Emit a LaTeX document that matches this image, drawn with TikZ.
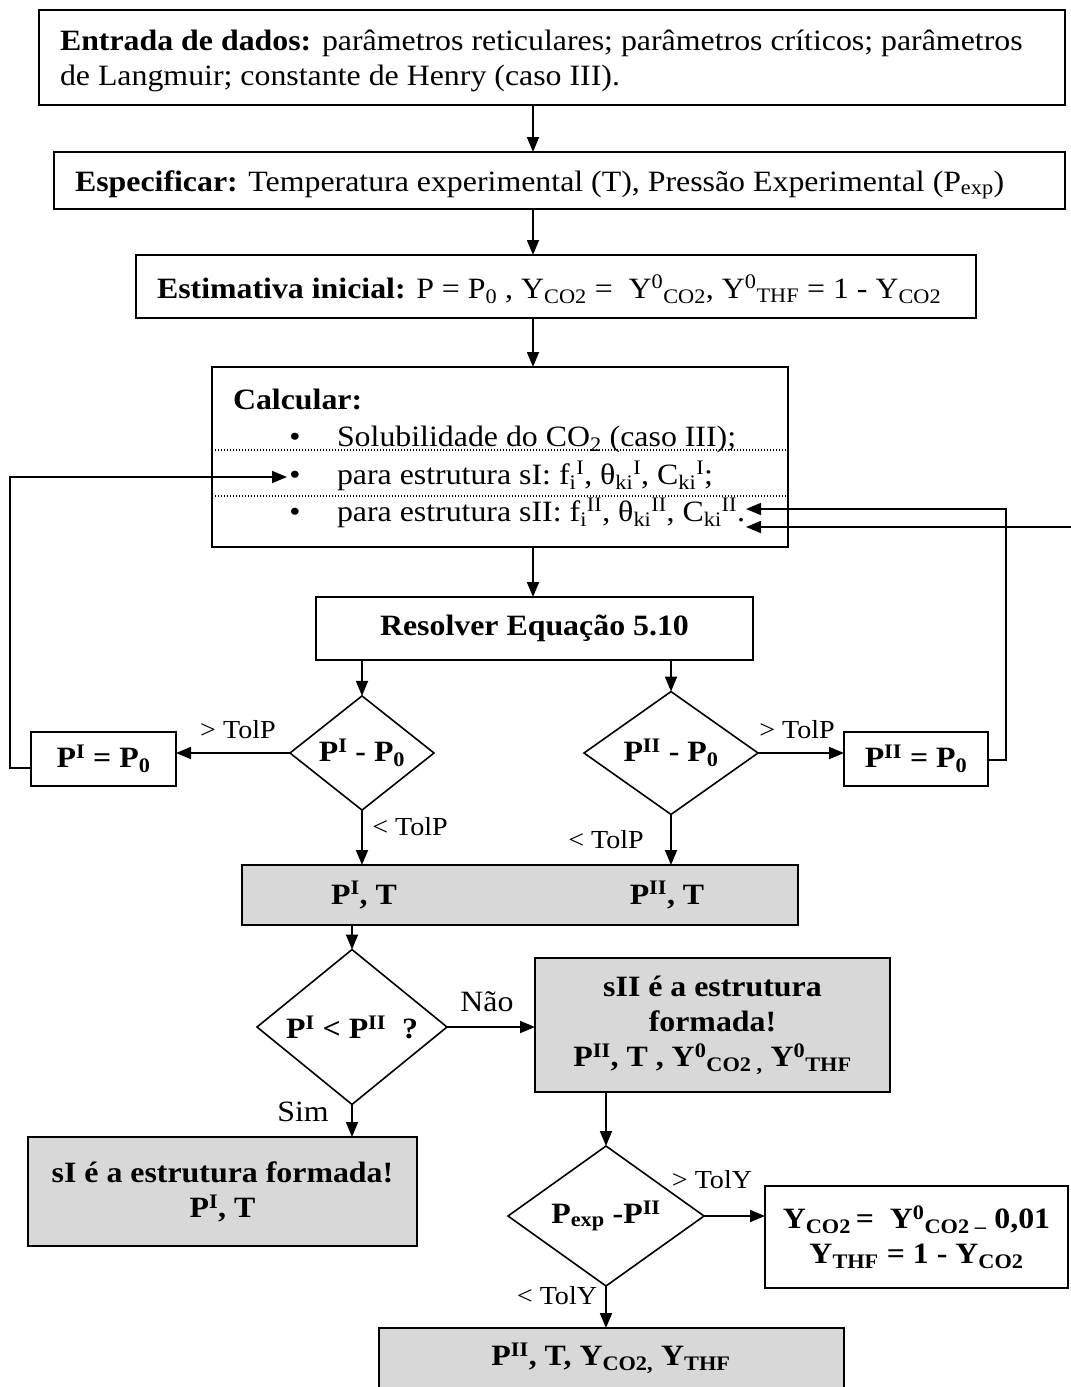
\documentclass[tikz,border=0pt]{standalone}
\usepackage{fontspec}
\setmainfont{Liberation Serif}[FakeStretch=1.08]
\usetikzlibrary{shapes.geometric,arrows.meta}
\definecolor{boxgray}{RGB}{216,216,216}
\newcommand{\xsub}[1]{\textsubscript{#1}}
\newcommand{\xsup}[1]{\textsuperscript{#1}}
\begin{document}
\begin{tikzpicture}[x=1pt,y=-1pt,
  every node/.style={inner sep=0pt, outer sep=0pt},
  frame/.style={draw, line width=1.8pt, rectangle},
  greyframe/.style={frame, fill=boxgray},
  dec/.style={draw, diamond, line width=1.6pt},
  txt/.style={font=\fontsize{29.5}{35}\selectfont, align=center},
  btxt/.style={font=\fontsize{29.5}{35}\selectfont\bfseries, align=center},
  lbl/.style={font=\fontsize{26}{30}\selectfont},
  tip/.style={-{Triangle[length=15pt,width=12pt]}},
  arr/.style={line width=1.8pt, tip},
  plain/.style={line width=1.6pt},
  dotline/.style={line width=1.3pt, dash pattern=on 1.3pt off 1.7pt}]
\useasboundingbox (0,0) rectangle (1071,1387);
\coordinate (axis) at (533,0);

% top boxes
\node[frame, minimum width=1026pt, minimum height=95pt] (entrada) at (552,57.5) {};
\node[txt, anchor=base west] (entradaA) at (60,50) {\textbf{Entrada de dados:} parâmetros reticulares; parâmetros críticos; parâmetros};
\node[txt, anchor=base west] (entradaB) at (60,85) {de Langmuir; constante de Henry (caso III).};

\node[frame, minimum width=1011pt, minimum height=57pt] (espec) at (559.5,180.5) {};
\node[txt, anchor=base west] (especT) at (75,191) {\textbf{Especificar:} Temperatura experimental (T), Pressão Experimental (P\xsub{exp})};

\node[frame, minimum width=840pt, minimum height=63pt] (estim) at (556,286.5) {};
\node[txt, anchor=base west] (estimT) at (157,298) {\textbf{Estimativa inicial:} P = P\xsub{0} , Y\xsub{CO2} =\ \ Y\xsup{0}\xsub{CO2}, Y\xsup{0}\xsub{THF} = 1 - Y\xsub{CO2}};

% calcular box
\node[frame, minimum width=576pt, minimum height=180pt] (calc) at (500,457) {};
\node[btxt, anchor=base west] (calcT) at (233,409) {Calcular:};
\node[txt, anchor=base] (bul1) at (295,446) {\textbullet};
\node[txt, anchor=base] (bul2) at (295,484) {\textbullet};
\node[txt, anchor=base] (bul3) at (295,521) {\textbullet};
\node[txt, anchor=base west] (calc1) at (337,446) {Solubilidade do CO\xsub{2} (caso III);};
\node[txt, anchor=base west] (calc2) at (337,484) {para estrutura sI: f\xsub{i}\xsup{I}, θ\xsub{ki}\xsup{I}, C\xsub{ki}\xsup{I};};
\node[txt, anchor=base west] (calc3) at (337,521) {para estrutura sII: f\xsub{i}\xsup{II}, θ\xsub{ki}\xsup{II}, C\xsub{ki}\xsup{II}.};
\coordinate (dotA) at (212,450);
\coordinate (dotB) at (212,496);
\draw[dotline] (dotA) -- (dotA -| calc.east);
\draw[dotline] (dotB) -- (dotB -| calc.east);
\coordinate (tipI) at (287,477);
\coordinate (tipIIa) at (746,509);
\coordinate (tipIIb) at (746,527);
\coordinate (edgeR) at (1071,527);
\coordinate (loopL) at (10,0);
\coordinate (loopR) at (1006,0);

% resolver
\node[frame, minimum width=437pt, minimum height=63pt, btxt] (resolver) at (534.5,628.5) {Resolver Equação 5.10};

% arrows down the axis
\draw[arr] (entrada.south -| axis) -- (espec.north -| axis);
\draw[arr] (espec.south -| axis) -- (estim.north -| axis);
\draw[arr] (estim.south -| axis) -- (calc.north -| axis);
\draw[arr] (calc.south -| axis) -- (resolver.north -| axis);

% first decisions
\node[dec, minimum width=144pt, minimum height=91pt, btxt] (dI) at (362,753) {P\xsup{I} - P\xsub{0}};
\node[dec, minimum width=174pt, minimum height=91pt, btxt] (dII) at (671,753) {P\xsup{II} - P\xsub{0}};
\node[frame, minimum width=145pt, minimum height=54pt, btxt] (pI0) at (103.5,759) {P\xsup{I} = P\xsub{0}};
\node[frame, minimum width=144pt, minimum height=54pt, btxt] (pII0) at (916,759) {P\xsup{II} = P\xsub{0}};
\draw[arr] (resolver.south -| dI.north) -- (dI.north);
\draw[arr] (resolver.south -| dII.north) -- (dII.north);
\draw[arr] (dI.west) -- (dI.west -| pI0.east);
\draw[arr] (dII.east) -- (dII.east -| pII0.west);
\node[lbl] (gtPI) at (238,730) {> TolP};
\node[lbl] (gtPII) at (797,730) {> TolP};

% loops
\draw[plain, tip] ([yshift=-9pt]pI0.west) -| (loopL |- tipI) -- (tipI);
\draw[plain, tip] ([yshift=-1pt]pII0.east) -| (loopR |- tipIIa) -- (tipIIa);
\draw[arr] (edgeR) -- (tipIIb);

% grey result box
\node[greyframe, minimum width=556pt, minimum height=60pt] (res1) at (520,895) {};
\node[btxt] (res1a) at (364,895) {P\xsup{I}, T};
\node[btxt] (res1b) at (667,895) {P\xsup{II}, T};
\draw[arr] (dI.south) -- (dI.south |- res1.north);
\draw[arr] (dII.south) -- (dII.south |- res1.north);
\node[lbl] (ltPI) at (410,827) {< TolP};
\node[lbl] (ltPII) at (606,840) {< TolP};

% comparison
\node[dec, minimum width=190pt, minimum height=110pt, btxt] (dcmp) at (352,1027) {P\xsup{I} < P\xsup{II}\ \ ?};
\draw[arr] (res1.south -| dcmp.north) -- (dcmp.north);
\node[greyframe, minimum width=355pt, minimum height=134pt, btxt] (sII) at (712.5,1025) {sII é a estrutura\\formada!\\P\xsup{II}, T , Y\xsup{0}\xsub{CO2 ,} Y\xsup{0}\xsub{THF}};
\draw[arr] (dcmp.east) -- (dcmp.east -| sII.west);
\node[txt] (nao) at (487,1002) {Não};
\node[greyframe, minimum width=389pt, minimum height=109pt, btxt] (sI) at (222.5,1191.5) {sI é a estrutura formada!\\P\xsup{I}, T};
\draw[arr] (dcmp.south) -- (dcmp.south |- sI.north);
\node[txt] (sim) at (303,1112) {Sim};

% final decision
\node[dec, minimum width=196pt, minimum height=107pt, btxt] (dexp) at (606,1216) {P\xsub{exp} -P\xsup{II}};
\draw[arr] (sII.south -| dexp.north) -- (dexp.north);
\node[frame, minimum width=303pt, minimum height=102pt, btxt] (ybox) at (916.5,1237) {Y\xsub{CO2}\,=\ \ Y\xsup{0}\xsub{CO2 –} 0,01\\Y\xsub{THF} = 1 - Y\xsub{CO2}};
\draw[arr] (dexp.east) -- (dexp.east -| ybox.west);
\node[lbl] (gtY) at (712,1180) {> TolY};
\node[greyframe, minimum width=465pt, minimum height=72pt] (final) at (611.5,1364) {};
\node[btxt] (finalT) at (611,1358) {P\xsup{II}, T, Y\xsub{CO2,} Y\xsub{THF}};
\draw[arr] (dexp.south) -- (dexp.south |- final.north);
\node[lbl] (ltY) at (557,1296) {< TolY};
\end{tikzpicture}
\end{document}
